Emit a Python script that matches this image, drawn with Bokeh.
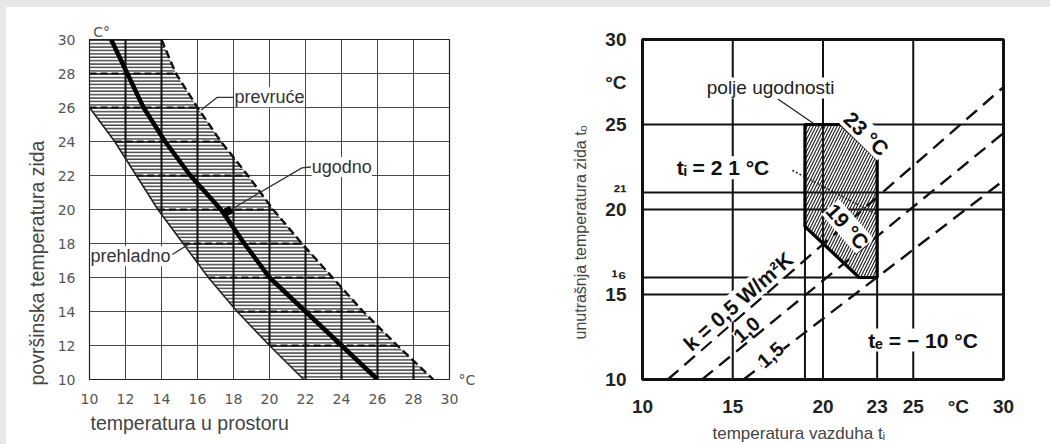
import numpy as np
from bokeh.plotting import figure
from bokeh.models import FixedTicker, Label, Div, Range1d, LinearAxis, Title
from bokeh.layouts import row, column
from bokeh.embed import file_html
from bokeh.resources import INLINE

# ---------------- left chart data ----------------
surf_temp = [30, 28, 26, 24, 22, 20, 18, 16, 14, 12, 10]
comfort_air = [11.2, 12.1, 13.0, 14.2, 15.6, 17.3, 18.6, 20.0, 22.0, 24.0, 26.0]
hot_air = [14.0, 14.8, 16.0, 17.3, 18.8, 20.2, 21.8, 23.5, 25.2, 27.1, 29.1]
cold_temp = [26, 24, 22, 20, 18, 16, 14, 12, 10]
cold_air = [10.0, 11.4, 12.6, 13.8, 15.2, 16.6, 18.2, 20.0, 21.9]
left_ticks = [10, 12, 14, 16, 18, 20, 22, 24, 26, 28, 30]
left_tick_labels = ["10", "12", "14", "16", "18", "20", "22", "24", "26", "28", "30"]
left_unit_top = {10.67: "C°"}
left_unit_right = {10: "°C"}

prevruce_leader_x = [18.0, 17.1, 16.2]
prevruce_leader_y = [26.6, 26.6, 25.85]
ugodno_leader_x = [22.3, 21.8, 17.7]
ugodno_leader_y = [22.5, 22.45, 19.9]
prehladno_leader_x = [14.6, 15.5]
prehladno_leader_y = [17.35, 17.95]

# ---------------- right chart data ----------------
air_ticks = [10, 15, 20, 23, 25, 27.5, 30]
air_tick_labels = ["10", "15", "20", "23", "25", "°C", "30"]
wall_ticks = [10, 15, 16, 20, 21, 25, 27.5, 30]
wall_tick_labels = ["10", "15", "¹⁶", "20", "²¹", "25", "°C", "30"]

zone_air = [19, 21, 23, 23, 22, 19]
zone_wall = [25, 25, 23, 16, 16, 19]

k_labels = ["k = 0,5 W/m²K", "1,0", "1,5"]
k_air = [[11.4, 30.0], [13.3, 30.0], [15.6, 30.0]]
k_wall = [[10.0, 27.2], [10.0, 24.5], [10.0, 21.7]]

vline_air = [15, 19, 20, 23, 25]
vline_from = [10, 10, 10, 10, 10]
vline_to = [30, 25, 30, 23, 30]
hline_wall = [25, 21, 20, 16, 15]
hline_from = [10, 10, 10, 10, 10]
hline_to = [30, 30, 30, 23, 30]

ti21_air = [18.3, 23.0]
ti21_wall = [22.3, 19.7]
polje_leader_air = [17.5, 19.7]
polje_leader_wall = [26.5, 24.9]

GRAY_BG = "#e7e7e7"


def lab(p, x, y, text, size, align="left", baseline="middle", angle=0.0,
        bold=False, color="#333333", font="Liberation Sans", bg=None):
    kw = {}
    if bg is not None:
        kw = dict(background_fill_color=bg, background_fill_alpha=1.0)
    p.add_layout(Label(x=x, y=y, text=text, text_font=font, text_font_size=size,
                       text_align=align, text_baseline=baseline, angle=angle,
                       text_font_style="bold" if bold else "normal",
                       text_color=color, **kw))


def plain_axis(ax):
    ax.axis_line_color = None
    ax.major_tick_line_color = None
    ax.minor_tick_line_color = None


# =============== LEFT FIGURE ===============
p1 = figure(width=534, height=437, x_range=Range1d(10, 30), y_range=Range1d(10, 30),
            min_border_left=83, min_border_right=91, min_border_top=32, min_border_bottom=63,
            output_backend="svg", toolbar_location=None)
p1.background_fill_color = "white"
p1.border_fill_color = "white"
p1.outline_line_color = "#222222"
p1.outline_line_width = 1.2

for ax in (p1.xaxis, p1.yaxis):
    ax.ticker = FixedTicker(ticks=left_ticks)
    ax.major_label_overrides = dict(zip(left_ticks, left_tick_labels))
    plain_axis(ax)
    ax.major_label_text_font = "DejaVu Sans"
    ax.major_label_text_font_size = "14px"
    ax.major_label_text_color = "#555555"
p1.xaxis.major_label_standoff = 8
p1.yaxis.major_label_standoff = 8

top_ax = LinearAxis(ticker=FixedTicker(ticks=list(left_unit_top.keys())),
                    major_label_overrides=left_unit_top, major_label_standoff=-6,
                    major_label_text_font="DejaVu Sans", major_label_text_font_size="14px",
                    major_label_text_color="#555555")
plain_axis(top_ax)
p1.add_layout(top_ax, "above")
right_ax = LinearAxis(ticker=FixedTicker(ticks=list(left_unit_right.keys())),
                      major_label_overrides=left_unit_right, major_label_standoff=3,
                      major_label_text_font="DejaVu Sans", major_label_text_font_size="14px",
                      major_label_text_color="#555555")
plain_axis(right_ax)
p1.add_layout(right_ax, "right")

p1.add_layout(Title(text="temperatura  u  prostoru", align="left", offset=1,
                    text_font="Liberation Sans", text_font_size="19.5px",
                    text_font_style="normal", text_color="#444444", standoff=7), "below")
p1.add_layout(Title(text="površinska  temperatura  zida", align="left", offset=-6,
                    text_font="Liberation Sans", text_font_size="19.5px",
                    text_font_style="normal", text_color="#444444", standoff=13), "left")

p1.xgrid.ticker = FixedTicker(ticks=left_ticks[1:-1])
p1.ygrid.ticker = FixedTicker(ticks=left_ticks[1:-1])
for g in (p1.xgrid, p1.ygrid):
    g.grid_line_color = "#333333"
    g.grid_line_width = 1
    g.grid_line_alpha = 0.9

# hatched band
band_x = [10] + cold_air + hot_air[::-1]
band_y = [30] + cold_temp + surf_temp[::-1]
p1.patch(band_x, band_y, fill_alpha=0, line_color=None,
         hatch_pattern="-", hatch_scale=3.4, hatch_weight=1.5,
         hatch_color="#222222", hatch_alpha=0.85)

# bold grid segments inside band
gx = np.array(left_ticks[1:-1], dtype=float)
vy0 = np.interp(gx, cold_air, cold_temp)
vy1 = np.interp(gx, hot_air, surf_temp)
p1.segment(x0=gx, y0=vy0, x1=gx, y1=vy1, line_color="#111111", line_width=2)
gy = np.array(left_ticks[1:-1], dtype=float)
hx0 = np.interp(gy, cold_temp[::-1], cold_air[::-1])
hx1 = np.interp(gy, surf_temp[::-1], hot_air[::-1])
p1.segment(x0=hx0, y0=gy, x1=hx1, y1=gy, line_color="#111111", line_width=2,
           line_dash="7 4")

# boundary curves
p1.line(cold_air, cold_temp, line_color="#222222", line_width=1.6)
p1.line(hot_air, surf_temp, line_color="#111111", line_width=2.4, line_dash="8 4")
p1.line(comfort_air, surf_temp, line_color="#000000", line_width=4.5)

# leaders
p1.line(prevruce_leader_x, prevruce_leader_y, line_color="#333333", line_width=1.3)
p1.line(ugodno_leader_x, ugodno_leader_y, line_color="#333333", line_width=1.3)
p1.line(prehladno_leader_x, prehladno_leader_y, line_color="#333333", line_width=1.3)
p1.scatter([ugodno_leader_x[-1]], [ugodno_leader_y[-1]], marker="square", size=7,
           color="#000000", angle=0.5)

lab(p1, 18.05, 26.6, "prevruće", "18px", bg="white")
lab(p1, 22.35, 22.5, "ugodno", "18px", bg="white")
lab(p1, 10.05, 17.25, "prehladno", "18px", bg="white")

# =============== RIGHT FIGURE ===============
p2 = figure(width=510, height=437, x_range=Range1d(10, 30), y_range=Range1d(10, 30),
            min_border_left=102, min_border_right=47, min_border_top=31, min_border_bottom=61,
            output_backend="svg", toolbar_location=None)
p2.background_fill_color = "white"
p2.border_fill_color = "white"
p2.outline_line_color = "#111111"
p2.outline_line_width = 3
p2.xgrid.visible = False
p2.ygrid.visible = False

p2.xaxis.ticker = FixedTicker(ticks=air_ticks)
p2.xaxis.major_label_overrides = dict(zip(air_ticks, air_tick_labels))
p2.yaxis.ticker = FixedTicker(ticks=wall_ticks)
p2.yaxis.major_label_overrides = dict(zip(wall_ticks, wall_tick_labels))
for ax in (p2.xaxis, p2.yaxis):
    plain_axis(ax)
    ax.major_label_text_font = "Liberation Sans"
    ax.major_label_text_font_style = "bold"
    ax.major_label_text_font_size = "19px"
    ax.major_label_text_color = "#222222"
    ax.major_label_standoff = 10

p2.add_layout(Title(text="temperatura  vazduha   tᵢ", align="left", offset=70,
                    text_font="Liberation Sans", text_font_size="17px",
                    text_font_style="normal", text_color="#444444", standoff=4), "below")
p2.add_layout(Title(text="unutrašnja  temperatura  zida   tₒ", align="left", offset=40,
                    text_font="Liberation Sans", text_font_size="16px",
                    text_font_style="normal", text_color="#444444", standoff=28), "left")

# grid-like lines
p2.segment(x0=vline_air, y0=vline_from, x1=vline_air, y1=vline_to,
           line_color="#111111", line_width=2)
p2.segment(x0=hline_from, y0=hline_wall, x1=hline_to, y1=hline_wall,
           line_color="#111111", line_width=2)

# comfort zone
p2.patch(zone_air, zone_wall, fill_color="white", fill_alpha=0.0,
         hatch_pattern="/", hatch_scale=6, hatch_weight=1.2, hatch_color="#222222",
         line_color="#000000", line_width=3.2)
p2.line(ti21_air, ti21_wall, line_color="#222222", line_width=1.5, line_dash="2 2")
p2.line(polje_leader_air, polje_leader_wall, line_color="#222222", line_width=1.3)

# k lines
for xs, ys in zip(k_air, k_wall):
    p2.line(xs, ys, line_color="#111111", line_width=2.4, line_dash="14 8")

lab(p2, 17.1, 27.15, "polje ugodnosti", "19px", align="center", color="#222222", bg="white")
lab(p2, 22.4, 24.45, "23 °C", "21px", align="center", angle=-0.77, bold=True,
    color="#111111", bg="white")
lab(p2, 21.36, 19.0, "19 °C", "21px", align="center", angle=-0.85, bold=True,
    color="#111111", bg="white")
lab(p2, 11.9, 22.45, "tᵢ  =  2 1  °C", "21px", bold=True, color="#111111", bg="white")
lab(p2, 15.3, 14.6, k_labels[0], "21px", align="center", angle=0.72, bold=True,
    color="#111111", bg="white")
lab(p2, 15.76, 12.93, k_labels[1], "20px", align="center", angle=0.72, bold=True,
    color="#111111", bg="white")
lab(p2, 17.09, 11.45, k_labels[2], "20px", align="center", angle=0.72, bold=True,
    color="#111111", bg="white")
lab(p2, 22.5, 12.32, "tₑ = − 10 °C", "21px", bold=True, color="#111111", bg="white")

top_band = Div(width=1050, height=7, margin=0, styles={"background-color": GRAY_BG})
left_band = Div(width=6, height=437, margin=0, styles={"background-color": GRAY_BG})
layout = column(top_band, row(left_band, p1, p2, spacing=0), spacing=0)

open("out.html", "w").write(file_html(layout, INLINE))
